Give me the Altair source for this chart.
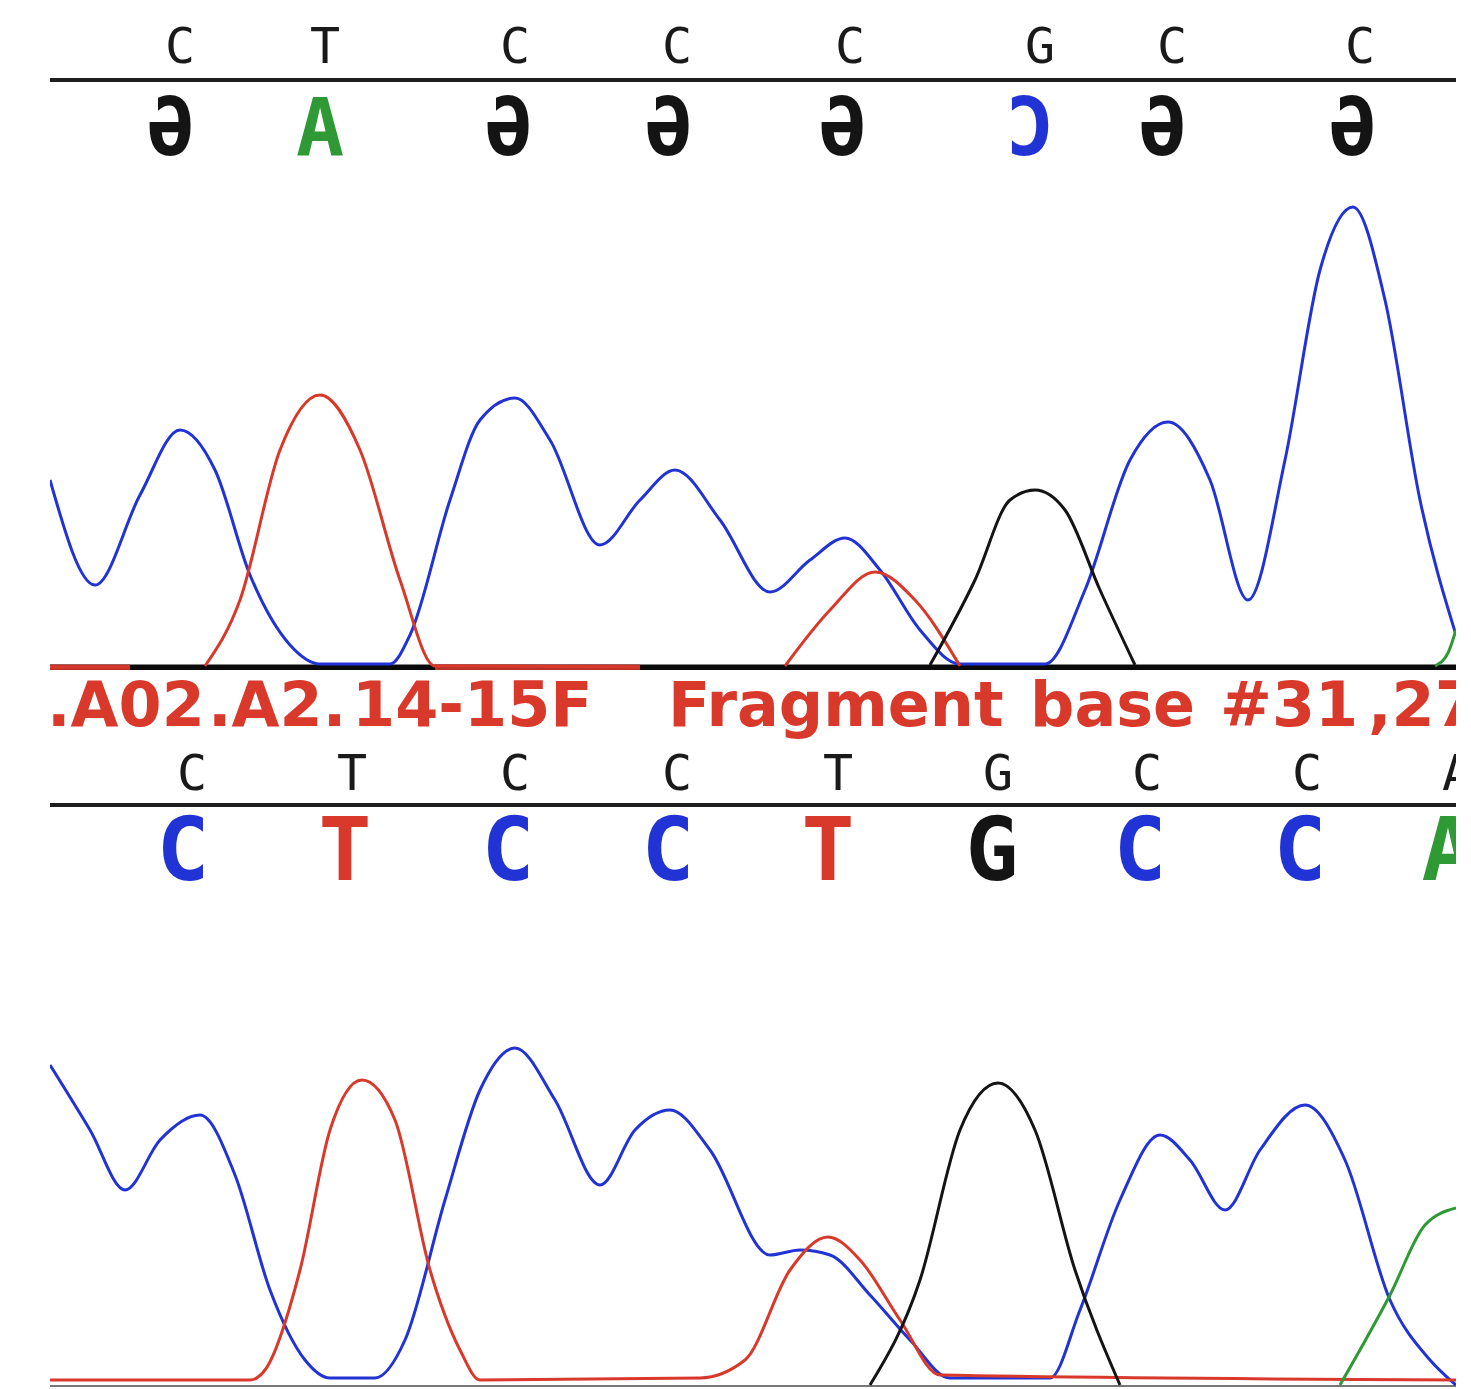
import altair as alt
import pandas as pd

# ---------------- data (scan position, signal) ----------------
BASES = ["A", "C", "G", "T"]
BASE_COLORS = ["#2f9a35", "#2233d6", "#141414", "#d8392b"]

# top (reverse) trace
top_C_x = [0, 45, 90, 130, 165, 200, 240, 270, 340, 360, 400, 430, 465, 500, 550, 590, 625, 670, 720, 760, 795, 830, 870, 910, 995, 1035, 1080, 1118, 1160, 1198, 1235, 1270, 1303, 1335, 1370, 1406]
top_C_y = [188, 83, 173, 238, 198, 93, 23, 4, 4, 33, 168, 248, 270, 228, 123, 168, 198, 148, 76, 108, 130, 98, 38, 4, 4, 78, 208, 246, 188, 68, 208, 398, 461, 368, 168, 33]
top_T_x = [0, 80, 155, 190, 230, 270, 310, 350, 385, 590, 735, 780, 825, 865, 910]
top_T_y = [1, 1, 2, 68, 218, 273, 218, 88, 2, 1, 2, 58, 96, 68, 2]
top_T_seg = [0, 0, 1, 1, 1, 1, 1, 1, 1, 1, 2, 2, 2, 2, 2]
top_G_x = [880, 925, 960, 985, 1015, 1050, 1085]
top_G_y = [3, 88, 168, 178, 158, 78, 3]
top_A_x = [1385, 1398, 1406]
top_A_y = [2, 15, 38]

# bottom (forward) trace
bot_C_x = [0, 40, 75, 110, 150, 185, 220, 255, 280, 325, 355, 395, 430, 465, 505, 550, 585, 620, 660, 720, 750, 780, 820, 860, 900, 1000, 1030, 1070, 1110, 1140, 1175, 1210, 1255, 1295, 1340, 1380, 1406]
bot_C_y = [320, 255, 195, 245, 270, 210, 95, 25, 7, 7, 45, 185, 295, 337, 285, 200, 255, 275, 235, 130, 135, 130, 90, 45, 7, 7, 75, 185, 250, 225, 175, 235, 280, 225, 85, 25, 0]
bot_T_x = [0, 200, 215, 250, 280, 312, 345, 380, 410, 430, 650, 695, 740, 778, 810, 850, 890, 1406]
bot_T_y = [5, 5, 15, 115, 255, 305, 265, 115, 35, 5, 7, 25, 115, 148, 125, 65, 10, 5]
bot_G_x = [820, 870, 910, 948, 985, 1025, 1070]
bot_G_y = [0, 105, 255, 302, 255, 115, 0]
bot_A_x = [1290, 1340, 1375, 1406]
bot_A_y = [0, 90, 160, 177]

# base calls
top_calls = ["C", "T", "C", "C", "C", "G", "C", "C"]
top_calls_x = [130, 275, 465, 627, 800, 990, 1122, 1310]
top_comp = ["G", "A", "G", "G", "G", "C", "G", "G"]
top_comp_glyph = ["Ə", "A", "Ə", "Ə", "Ə", "Ɔ", "Ə", "Ə"]
top_comp_x = [120, 270, 458, 618, 792, 980, 1112, 1302]

bot_calls = ["C", "T", "C", "C", "T", "G", "C", "C", "A"]
bot_calls_x = [142, 302, 465, 627, 788, 948, 1097, 1257, 1407]
bot_big = ["C", "T", "C", "C", "T", "G", "C", "C", "A"]
bot_big_x = [133, 295, 458, 618, 778, 942, 1090, 1250, 1398]

# title ".A02.A2.14-15F Fragment base #31,27" in pieces
title_words = [".A02", ".A2.", "14-15F", "Fragment", "base", "#31", ",27"]
title_x = [-3, 158, 302, 618, 980, 1170, 1318]

# ---------------- helpers ----------------
X = alt.Scale(domain=[0, 1406], nice=False, zero=False)
COL = alt.Scale(domain=BASES, range=BASE_COLORS)
W = 1406


def traces(specs):
    rows = []
    for name, xs, ys, base, segs in specs:
        for i, (xv, yv) in enumerate(zip(xs, ys)):
            rows.append({"x": xv, "y": yv, "base": base,
                         "trace": f"{name}-{segs[i] if segs else 0}", "o": i})
    return pd.DataFrame(rows)


def panel(ydom, height, tr, rules, texts):
    Y = alt.Scale(domain=ydom, nice=False, zero=False)
    layers = []
    rdf = pd.DataFrame(rules)
    for sw, grp in rdf.groupby("w"):
        layers.append(
            alt.Chart(grp).mark_rule(clip=True, strokeCap="butt").encode(
                x=alt.X("x1:Q", scale=X, axis=None),
                x2="x2:Q",
                y=alt.Y("y:Q", scale=Y, axis=None),
                color=alt.Color("c:N", scale=None),
                strokeWidth=alt.value(float(sw)),
            )
        )
    layers.append(
        alt.Chart(tr).mark_line(clip=True, interpolate="monotone", strokeWidth=3).encode(
            x=alt.X("x:Q", scale=X, axis=None),
            y=alt.Y("y:Q", scale=Y, axis=None),
            color=alt.Color("base:N", scale=COL, legend=None),
            detail="trace:N",
            order="o:Q",
        )
    )
    for t in texts:
        layers.append(t(Y))
    return alt.layer(*layers).properties(width=W, height=height)


def text_layer(df, font, size, weight, color_field=None, color=None, align="center"):
    def f(Y):
        enc = dict(
            x=alt.X("x:Q", scale=X, axis=None),
            y=alt.Y("y:Q", scale=Y, axis=None),
            text="t:N",
        )
        if color_field:
            enc["color"] = alt.Color(f"{color_field}:N", scale=COL, legend=None)
        mk = dict(clip=True, font=font, fontSize=size, fontWeight=weight,
                  align=align, baseline="middle")
        if color:
            mk["color"] = color
        return alt.Chart(df).mark_text(**mk).encode(**enc)
    return f


# ---------------- top panel ----------------
top_tr = traces([
    ("C", top_C_x, top_C_y, "C", None),
    ("T", top_T_x, top_T_y, "T", top_T_seg),
    ("G", top_G_x, top_G_y, "G", None),
    ("A", top_A_x, top_A_y, "A", None),
])
top_rules = {
    "x1": [0, 0, 0, 385], "x2": [1406, 1406, 80, 590],
    "y": [588, 0, 0, 0], "w": [4, 7, 7, 7],
    "c": ["#1e1e1e", "#0a0a0a", "#b8322a", "#b8322a"],
}
top_calls_df = pd.DataFrame({"x": top_calls_x, "y": [620] * len(top_calls), "t": top_calls})
top_comp_df = pd.DataFrame({"x": top_comp_x, "y": [537] * len(top_comp), "t": top_comp_glyph, "b": top_comp})

top = panel([-2, 660], 662, top_tr, top_rules, [
    text_layer(top_calls_df, "DejaVu Sans Mono", 50, "normal", color="#1a1a1a"),
    text_layer(top_comp_df, "DejaVu Sans Mono", 80, "bold", color_field="b"),
])

# ---------------- bottom panel ----------------
bot_tr = traces([
    ("C", bot_C_x, bot_C_y, "C", None),
    ("T", bot_T_x, bot_T_y, "T", None),
    ("G", bot_G_x, bot_G_y, "G", None),
    ("A", bot_A_x, bot_A_y, "A", None),
])
bot_rules = {
    "x1": [0, 0], "x2": [1406, 1406], "y": [580, -1], "w": [4, 2],
    "c": ["#1e1e1e", "#777777"],
}
title_df = pd.DataFrame({"x": title_x, "y": [678] * len(title_words), "t": title_words})
bot_calls_df = pd.DataFrame({"x": bot_calls_x, "y": [610] * len(bot_calls), "t": bot_calls})
bot_big_df = pd.DataFrame({"x": bot_big_x, "y": [531] * len(bot_big), "t": bot_big, "b": bot_big})

bottom = panel([-4, 715], 719, bot_tr, bot_rules, [
    text_layer(title_df, "DejaVu Sans", 62, "bold", color="#d8392b", align="left"),
    text_layer(bot_calls_df, "DejaVu Sans Mono", 50, "normal", color="#1a1a1a"),
    text_layer(bot_big_df, "DejaVu Sans Mono", 88, "bold", color_field="b"),
])

chart = alt.vconcat(top, bottom, spacing=0).properties(
    padding={"left": 42, "top": 0, "right": 7, "bottom": 0},
    background="white",
).configure_view(stroke=None).configure_concat(spacing=0)

chart.save("out.html", embed_options={"renderer": "svg", "actions": False})
